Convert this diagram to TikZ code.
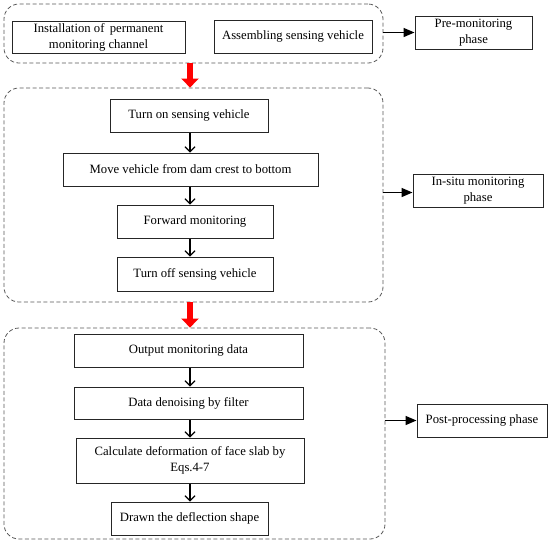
\documentclass[tikz,border=0pt]{standalone}
\usepackage{fontspec}
\setmainfont{Liberation Serif}
\usetikzlibrary{arrows.meta}
\tikzset{
  stepbox/.style={draw=black!85, line width=1pt, inner sep=0pt, align=center, font=\fontsize{12.7}{16}\selectfont},
  group/.style={draw=black!65, dashed, dash pattern=on 4pt off 2.5pt, line width=0.8pt, rounded corners=15pt, inner sep=0pt},
  flow/.style={draw=black, line width=1.1pt, -{Straight Barb[length=5pt,width=10pt]}},
  phasearrow/.style={draw=black, line width=1.6pt, -{Triangle[length=11pt,width=9pt]}},
  redarrow/.style={draw=red, line width=6pt, -{Triangle[length=9pt,width=17pt]}},
}
\begin{document}
\begin{tikzpicture}[x=1pt,y=-1pt]
\useasboundingbox (0,0) rectangle (550,542);
\coordinate (ax) at (190,0);
% containers
\node[group, minimum width=379pt, minimum height=59pt] (C1) at (193.5,33.5) {};
\node[group, minimum width=379pt, minimum height=214pt] (C2) at (193.5,195) {};
\node[group, minimum width=381pt, minimum height=211pt] (C3) at (194.5,433.5) {};
% phase 1
\node[stepbox, minimum width=173pt, minimum height=32pt] (a1) at (98.5,37) {Installation of\, permanent\\monitoring channel};
\node[stepbox, minimum width=158pt, minimum height=33pt] (a2) at (293,36.5) {Assembling sensing vehicle};
\node[stepbox, minimum width=117pt, minimum height=33pt] (P1) at (473.5,32.5) {Pre-monitoring\\phase};
% phase 2
\node[stepbox, minimum width=158pt, minimum height=33pt] (b1) at (189,115.5) {Turn on sensing vehicle};
\node[stepbox, minimum width=255pt, minimum height=33pt] (b2) at (190.5,169.5) {Move vehicle from dam crest to bottom};
\node[stepbox, minimum width=156pt, minimum height=33pt] (b3) at (195,221.5) {Forward monitoring};
\node[stepbox, minimum width=156pt, minimum height=34pt] (b4) at (195,274) {Turn off sensing vehicle};
\node[stepbox, minimum width=130pt, minimum height=33pt] (P2) at (478,190.5) {In-situ monitoring\\phase};
% phase 3
\node[stepbox, minimum width=229pt, minimum height=33pt] (c1) at (188.5,350.5) {Output monitoring data};
\node[stepbox, minimum width=229pt, minimum height=32pt] (c2) at (188.5,403) {Data denoising by filter};
\node[stepbox, minimum width=228pt, minimum height=45pt] (c3) at (190,460.5) {Calculate deformation of face slab by\\Eqs.4-7};
\node[stepbox, minimum width=157pt, minimum height=33pt] (c4) at (189.5,518.5) {Drawn the deflection shape};
\node[stepbox, minimum width=130pt, minimum height=33pt] (P3) at (482,420.5) {Post-processing phase};
% flow arrows
\draw[flow] (b1.south -| ax) -- (b2.north -| ax);
\draw[flow] (b2.south -| ax) -- (b3.north -| ax);
\draw[flow] (b3.south -| ax) -- (b4.north -| ax);
\draw[flow] (c1.south -| ax) -- (c2.north -| ax);
\draw[flow] (c2.south -| ax) -- (c3.north -| ax);
\draw[flow] (c3.south -| ax) -- (c4.north -| ax);
% phase arrows
\draw[phasearrow] (P1.west -| C1.east) -- (P1.west);
\draw[phasearrow] ([yshift=-2pt]P2.west -| C2.east) -- ([yshift=-2pt]P2.west);
\draw[phasearrow] (P3.west -| C3.east) -- (P3.west);
% red arrows
\draw[redarrow] (C1.south -| ax) -- (C2.north -| ax);
\draw[redarrow] (C2.south -| ax) -- (C3.north -| ax);
\end{tikzpicture}
\end{document}
